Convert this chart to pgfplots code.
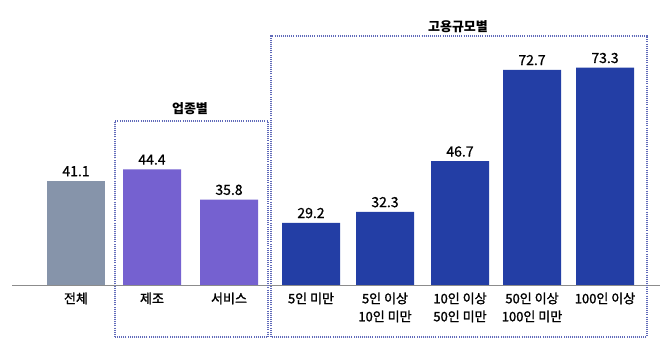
\documentclass[border=0pt]{standalone}
\usepackage{pgfplots}
\pgfplotsset{compat=1.18}
\usepackage{fontspec}
\setmainfont{Noto Sans CJK KR}
\newfontfamily\medfont{Noto Sans CJK KR}[FakeBold=0.9]
\newfontfamily\labfont{Noto Sans CJK KR}[FakeBold=1.6]
\definecolor{cgray}{RGB}{134,148,170}
\definecolor{cpurple}{RGB}{117,97,208}
\definecolor{cblue}{RGB}{35,62,165}
\definecolor{cdot}{RGB}{95,105,185}
\definecolor{cbase}{RGB}{140,140,140}
\begin{document}
\begin{tikzpicture}[x=1pt,y=1pt]
\path[use as bounding box] (0,0) rectangle (670,356);
\draw[cbase, line width=0.9pt] (12,71) -- (660,71);
\begin{axis}[
  at={(0pt,71pt)}, anchor=south west,
  width=670pt, height=285pt, scale only axis,
  xmin=0, xmax=670, ymin=11.5, ymax=92.56,
  ytick=\empty,
  axis line style={draw=none},
  xtick={76,152,229,311,385,460,532,605},
  xticklabels={전체,제조,서비스,5인 미만,{5인 이상\\10인 미만},{10인 이상\\50인 미만},{50인 이상\\100인 미만},100인 이상},
  xticklabel style={align=center, font=\labfont\fontsize{13}{18}\selectfont, yshift=-4pt},
  major tick length=0pt,
  /pgf/number format/assume math mode=true,
  /pgf/number format/fixed, /pgf/number format/precision=1, /pgf/number format/fixed zerofill,
  nodes near coords,
  every node near coord/.append style={font=\medfont\fontsize{14}{14}\selectfont, text=black, yshift=1pt},
]
\addplot[ybar, bar width=58, bar shift=0pt, fill=cgray, draw=none] coordinates {(76,41.1)};
\addplot[ybar, bar width=58, bar shift=0pt, fill=cpurple, draw=none] coordinates {(152,44.4) (229,35.8)};
\addplot[ybar, bar width=58, bar shift=0pt, fill=cblue, draw=none] coordinates {(311,29.2) (385,32.3) (460,46.7) (532,72.7) (605,73.3)};
\end{axis}
\draw[cdot, line width=1.1pt, dash pattern=on 1pt off 1.1pt] (115,19) rectangle (268,235);
\draw[cdot, line width=1.1pt, dash pattern=on 1pt off 1.1pt] (271,19) rectangle (647,320);
\node[font=\bfseries\fontsize{13}{13}\selectfont] at (190,247) {업종별};
\node[font=\bfseries\fontsize{13}{13}\selectfont] at (458,329) {고용규모별};
\end{tikzpicture}
\end{document}
